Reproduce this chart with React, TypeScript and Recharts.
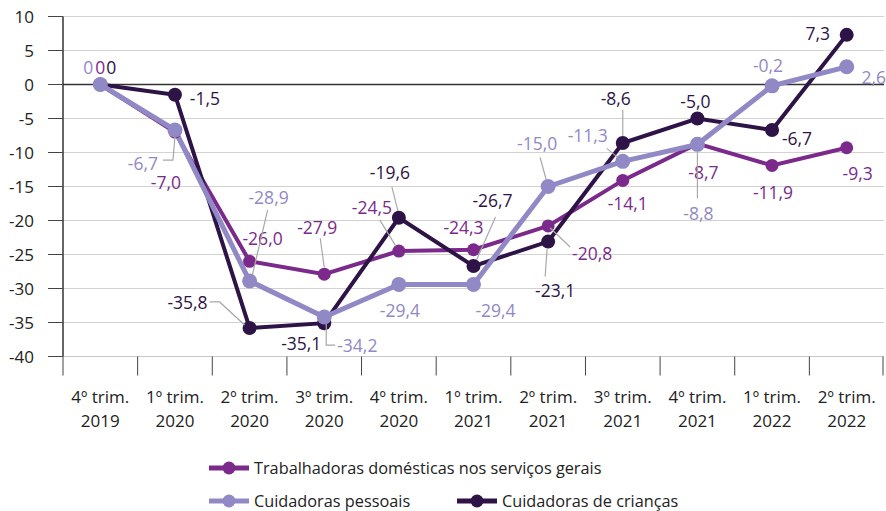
import { CartesianGrid, LabelList, Line, LineChart, ReferenceLine, XAxis, YAxis } from "recharts";

const periods = [
  ["4º trim.", "2019"],
  ["1º trim.", "2020"],
  ["2º trim.", "2020"],
  ["3º trim.", "2020"],
  ["4º trim.", "2020"],
  ["1º trim.", "2021"],
  ["2º trim.", "2021"],
  ["3º trim.", "2021"],
  ["4º trim.", "2021"],
  ["1º trim.", "2022"],
  ["2º trim.", "2022"],
];
const domesticas = [0, -7.0, -26.0, -27.9, -24.5, -24.3, -20.8, -14.1, -8.7, -11.9, -9.3];
const pessoais = [0, -6.7, -28.9, -34.2, -29.4, -29.4, -15.0, -11.3, -8.8, -0.2, 2.6];
const criancas = [0, -1.5, -35.8, -35.1, -19.6, -26.7, -23.1, -8.6, -5.0, -6.7, 7.3];
const yTicks = [-40, -35, -30, -25, -20, -15, -10, -5, 0, 5, 10];

const names = {
  dom: "Trabalhadoras domésticas nos serviços gerais",
  pes: "Cuidadoras pessoais",
  cri: "Cuidadoras de crianças",
};

const COLORS = { dom: "#7b2a8b", pes: "#9189c6", cri: "#2e1346" };
const FONT = "'Open Sans', 'Noto Sans', sans-serif";

const data = periods.map((p, i) => ({
  key: p.join(" "),
  dom: domesticas[i],
  pes: pessoais[i],
  cri: criancas[i],
}));

// label placement relative to the point: [dx, dy, anchor, leader points]
type Spec = [number, number, "start" | "middle" | "end", number[][]?];

const domLabels: Spec[] = [
  [0, -18, "middle"],
  [-9, 50, "middle"],
  [13, -23, "middle"],
  [-7, -47, "middle", [[-4, -36], [0, -7]]],
  [-27, -44, "middle", [[-19, -31], [-3, -5]]],
  [-10, -23, "middle"],
  [44, 27, "middle", [[2, 2], [22, 21]]],
  [5, 23, "middle"],
  [6, 28, "middle"],
  [1, 27, "middle"],
  [11, 25, "middle"],
];
const pesLabels: Spec[] = [
  [-12, -18, "middle"],
  [-17, 33, "end", [[0, 7], [-2, 30], [-12, 30]]],
  [19, -84, "middle", [[18, -71], [3, -7]]],
  [13, 28, "start", [[2, 7], [2, 28], [11, 28]]],
  [1, 26, "middle"],
  [22, 26, "middle"],
  [-11, -44, "middle", [[-8, -29], [-2, -7]]],
  [-35, -26, "middle", [[-16, -13], [-5, -4]]],
  [1, 69, "middle", [[0, 7], [0, 54]]],
  [-4, -21, "middle"],
  [27, 10, "middle"],
];
const criLabels: Spec[] = [
  [11, -18, "middle"],
  [30, 3, "middle"],
  [-42, -26, "end", [[-40, -26], [-30, -26], [-5, -3]]],
  [-23, 20, "middle"],
  [-9, -46, "middle", [[-7, -31], [-1, -7]]],
  [19, -66, "middle", [[22, -49], [3, -6]]],
  [7, 48, "middle", [[-1, 7], [-3, 35]]],
  [-7, -45, "middle", [[0, -33], [0, -7]]],
  [-2, -18, "middle"],
  [25, 8, "middle"],
  [-29, -2, "middle"],
];

const fmt = (v: number) => (v === 0 ? "0" : v.toFixed(1).replace(".", ","));

function makeLabel(color: string, specs: Spec[]) {
  return (props: any) => {
    const { x, y, index, value } = props;
    const s = specs[index];
    if (!s) return null;
    const [dx, dy, anchor, leader] = s;
    return (
      <g>
        {leader && (
          <polyline
            points={leader.map(([a, b]) => `${x + a},${y + b}`).join(" ")}
            fill="none"
            stroke="#a8a8a8"
            strokeWidth={1.2}
          />
        )}
        <text
          x={x + dx}
          y={y + dy}
          textAnchor={anchor}
          dominantBaseline="central"
          fill={color}
          fontSize={17.5}
          fontFamily={FONT}
        >
          {fmt(value)}
        </text>
      </g>
    );
  };
}

const W = 886;
const H = 511;
const LEFT = 63;
const RIGHT = 2;
const HALF_BAND = (W - LEFT - RIGHT) / periods.length / 2;

function PeriodTick(props: any) {
  const { x, y, index, payload } = props;
  const p = periods[index] ?? String(payload.value).split(" ");
  return (
    <g>
      <line x1={x - HALF_BAND} y1={y} x2={x - HALF_BAND} y2={y + 19} stroke="#444" strokeWidth={1} />
      {index === periods.length - 1 && (
        <line x1={x + HALF_BAND - 1} y1={y} x2={x + HALF_BAND - 1} y2={y + 19} stroke="#444" strokeWidth={1} />
      )}
      <text x={x} y={y + 46.5} textAnchor="middle" fill="#222" fontSize={17} fontFamily={FONT}>
        {p[0]}
      </text>
      <text x={x} y={y + 70} textAnchor="middle" fill="#222" fontSize={17} fontFamily={FONT}>
        {p[1]}
      </text>
    </g>
  );
}

function Marker({ color }: { color: string }) {
  return (
    <svg width={40} height={16} style={{ display: "block" }}>
      <line x1={0} y1={8} x2={40} y2={8} stroke={color} strokeWidth={5} />
      <circle cx={20} cy={8} r={6.5} fill={color} />
    </svg>
  );
}

function LegendItem({ k, left, top }: { k: "dom" | "pes" | "cri"; left: number; top: number }) {
  return (
    <div
      style={{
        position: "absolute",
        left,
        top,
        display: "flex",
        alignItems: "center",
        gap: 5,
        fontFamily: FONT,
        fontSize: 16.3,
        color: "#222",
        whiteSpace: "nowrap",
        lineHeight: "20px",
      }}
    >
      <Marker color={COLORS[k]} />
      <span>{names[k]}</span>
    </div>
  );
}

export default function App() {
  return (
    <div style={{ position: "absolute", left: 0, top: 0, width: W, height: H, background: "#fff" }}>
      <LineChart
        width={W}
        height={H}
        data={data}
        margin={{ top: 16.5, right: RIGHT, left: 0, bottom: 74.5 }}
      >
        <CartesianGrid vertical={false} stroke="#d2d2d2" strokeWidth={1} />
        <XAxis
          dataKey="key"
          scale="band"
          height={80}
          interval={0}
          tickLine={false}
          tickSize={0}
          tickMargin={0}
          axisLine={{ stroke: "#c8c8c8" }}
          tick={<PeriodTick />}
        />
        <YAxis
          width={LEFT}
          domain={[-40, 10]}
          ticks={yTicks}
          interval={0}
          tickSize={15}
          tickMargin={14}
          axisLine={{ stroke: "#333", strokeWidth: 1.5 }}
          tickLine={{ stroke: "#444" }}
          tick={{ fontSize: 17, fill: "#222", fontFamily: FONT }}
        />
        <ReferenceLine y={0} stroke="#333" strokeWidth={1.5} />
        <Line
          dataKey="dom"
          stroke={COLORS.dom}
          strokeWidth={4}
          dot={{ r: 6.5, fill: COLORS.dom, stroke: "none" }}
          activeDot={false}
          isAnimationActive={false}
        >
          <LabelList dataKey="dom" content={makeLabel(COLORS.dom, domLabels)} />
        </Line>
        <Line
          dataKey="cri"
          stroke={COLORS.cri}
          strokeWidth={4}
          dot={{ r: 7, fill: COLORS.cri, stroke: "none" }}
          activeDot={false}
          isAnimationActive={false}
        >
          <LabelList dataKey="cri" content={makeLabel(COLORS.cri, criLabels)} />
        </Line>
        <Line
          dataKey="pes"
          stroke={COLORS.pes}
          strokeWidth={5}
          dot={{ r: 7.5, fill: COLORS.pes, stroke: "none" }}
          activeDot={false}
          isAnimationActive={false}
        >
          <LabelList dataKey="pes" content={makeLabel(COLORS.pes, pesLabels)} />
        </Line>
      </LineChart>
      <LegendItem k="dom" left={209} top={458} />
      <LegendItem k="pes" left={209} top={491} />
      <LegendItem k="cri" left={457} top={491} />
    </div>
  );
}
